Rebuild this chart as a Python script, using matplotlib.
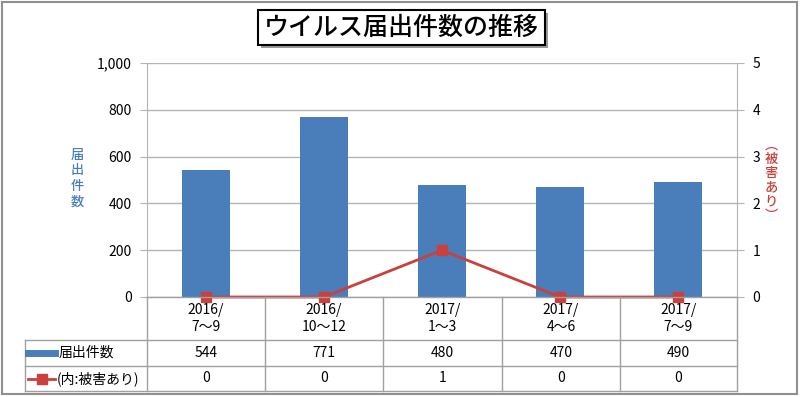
import matplotlib
matplotlib.use('Agg')
import matplotlib.pyplot as plt
import numpy as np
from matplotlib.lines import Line2D
from matplotlib.patches import Rectangle

plt.rcParams['font.family'] = ['Noto Sans CJK JP', 'DejaVu Sans']

# データ
periods = ['2016/\n7〜9', '2016/\n10〜12', '2017/\n1〜3', '2017/\n4〜6', '2017/\n7〜9']
counts = [544, 771, 480, 470, 490]
damaged = [0, 0, 1, 0, 0]
count_label = '届出件数'
damage_label = '(内:被害あり)'
title = 'ウイルス届出件数の推移'

W, H = 800, 397
bar_color = '#4a7ebb'
line_color = '#c9403d'
grid_color = '#b4b4b4'


def px(x, y):
    return x / W, 1 - y / H


fig = plt.figure(figsize=(8, 3.97), dpi=100)
fig.patch.set_facecolor('white')

# プロット領域 (x:147-737, y:63-297)
ax = fig.add_axes([147 / W, 1 - 297 / H, 590 / W, 234 / H])
x = np.arange(len(periods))
ax.bar(x, counts, width=0.4, color=bar_color, zorder=2)
ax.set_xlim(-0.5, len(periods) - 0.5)
ax.set_ylim(0, 1000)
ax.set_yticks(np.arange(0, 1001, 200))
ax.set_yticklabels([f'{v:,}' for v in range(0, 1001, 200)])
ax.set_xticks([])
ax.grid(True, axis='y', color=grid_color, linewidth=1, zorder=0)
for s in ['top', 'right', 'bottom']:
    ax.spines[s].set_visible(False)
ax.spines['left'].set_color(grid_color)
ax.tick_params(axis='y', length=5, color=grid_color, labelsize=10, pad=6)

ax2 = ax.twinx()
ax2.plot(x, damaged, color=line_color, linewidth=2, marker='s', markersize=7,
         zorder=3, clip_on=False)
ax2.set_ylim(0, 5)
ax2.set_yticks(range(0, 6))
for s in ['top', 'left', 'bottom']:
    ax2.spines[s].set_visible(False)
ax2.spines['right'].set_color(grid_color)
ax2.tick_params(axis='y', length=5, color=grid_color, labelsize=10, pad=6)

# 軸ラベル (縦書き)
fig.text(*px(77, 178), '\n'.join(count_label), color=bar_color, fontsize=9.5,
         ha='center', va='center', linespacing=1.15, fontweight='medium')
fig.text(*px(771, 180), '\n'.join('︵被害あり︶'), color=line_color, fontsize=9.5,
         ha='center', va='center', linespacing=1.0, fontweight='medium')

# データテーブル
col_edges = [147, 265, 383, 502, 620, 737]
row_edges = [297, 340, 366, 391]
tbl_left = 25


def hline(x0, x1, y):
    fig.add_artist(Line2D([x0 / W, x1 / W], [1 - y / H, 1 - y / H],
                          color='#a0a0a0', linewidth=1))


def vline(x0, y0, y1):
    fig.add_artist(Line2D([x0 / W, x0 / W], [1 - y0 / H, 1 - y1 / H],
                          color='#a0a0a0', linewidth=1))


hline(col_edges[0], col_edges[-1], row_edges[0])
for y in row_edges[1:]:
    hline(tbl_left, col_edges[-1], y)
vline(tbl_left, row_edges[1], row_edges[-1])
for xe in col_edges:
    vline(xe, row_edges[0], row_edges[-1])

for i in range(len(periods)):
    cx = (col_edges[i] + col_edges[i + 1]) / 2
    fig.text(*px(cx, (row_edges[0] + row_edges[1]) / 2), periods[i], fontsize=10,
             ha='center', va='center', linespacing=1.3)
    fig.text(*px(cx, (row_edges[1] + row_edges[2]) / 2), str(counts[i]), fontsize=10,
             ha='center', va='center')
    fig.text(*px(cx, (row_edges[2] + row_edges[3]) / 2), str(damaged[i]), fontsize=10,
             ha='center', va='center')

# 凡例
y1 = (row_edges[1] + row_edges[2]) / 2
y2 = (row_edges[2] + row_edges[3]) / 2
fig.add_artist(Line2D([28 / W, 55 / W], [1 - y1 / H] * 2, color=bar_color, linewidth=5))
fig.text(*px(59, y1), count_label, fontsize=10, ha='left', va='center')
fig.add_artist(Line2D([28 / W, 55 / W], [1 - y2 / H] * 2, color=line_color, linewidth=2))
fig.add_artist(Line2D([41.5 / W], [1 - y2 / H], color=line_color, marker='s', markersize=7))
fig.text(*px(57, y2), damage_label, fontsize=10, ha='left', va='center')

# タイトル (影付きボックス)
fig.add_artist(Rectangle(px(261, 48), 287 / W, 35 / H, transform=fig.transFigure,
                         facecolor='#9a9a9a', edgecolor='none'))
fig.add_artist(Rectangle(px(258, 45), 287 / W, 35 / H, transform=fig.transFigure,
                         facecolor='white', edgecolor='black', linewidth=1.5))
fig.text(*px(401, 28), title, fontsize=18, fontweight='medium', ha='center', va='center')

# 外枠
fig.add_artist(Rectangle(px(2, 394), 795 / W, 392 / H, transform=fig.transFigure,
                         facecolor='none', edgecolor='#909090', linewidth=1.5))

fig.savefig('out.png', dpi=100)
